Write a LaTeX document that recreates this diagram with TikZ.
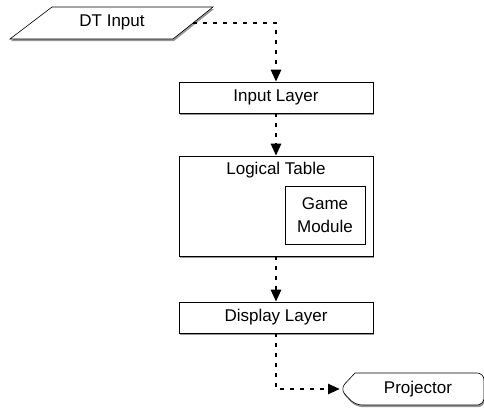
\documentclass[tikz,border=0pt]{standalone}
\usepackage{fontspec}
\setmainfont{Liberation Sans}
\usetikzlibrary{shadows,arrows.meta}
\begin{document}
\begin{tikzpicture}[x=1pt,y=-1pt,
  shd/.style={drop shadow={shadow xshift=0.8pt,shadow yshift=-2.2pt,opacity=0.55,fill=black!75}},
  boxs/.style={draw=black,line width=0.6pt,fill=white,shd},
  lbl/.style={font=\fontsize{17}{19}\selectfont,inner sep=0pt},
  conn/.style={line width=2.6pt,dash pattern=on 4pt off 6pt,-{Triangle[length=12pt,width=10pt]}}]
\useasboundingbox (0,0) rectangle (484,413);
% DT Input
\filldraw[boxs] (52,7) -- (213,7) -- (173,39) -- (10,39) -- cycle;
\node[lbl] (dt) at (112,22) {DT Input};
\coordinate (dtout) at (193,23);
% Input Layer
\node[boxs,minimum width=194pt,minimum height=31pt,inner sep=0pt] (il) at (276,97.5) {};
\node[lbl] at (il.center) {Input Layer};
% Logical Table
\node[boxs,minimum width=194pt,minimum height=100pt,inner sep=0pt] (lt) at (276,206) {};
\node[lbl] (ltl) at (276,170) {Logical Table};
\node[draw=black,line width=0.5pt,fill=white,minimum width=80pt,minimum height=58pt,inner sep=0pt,
      align=center,font=\fontsize{17}{23}\selectfont] (gm) at (325,215) {Game\\Module};
% Display Layer
\node[boxs,minimum width=194pt,minimum height=31pt,inner sep=0pt] (dl) at (276,317.5) {};
\node[lbl] at (dl.center) {Display Layer};
% Projector
\filldraw[boxs,rounded corners=7pt] (355,373) -- (484,373) -- (484,405) -- (355,405) -- (340,389) [sharp corners] -- cycle;
\node[lbl] (pj) at (418,389) {Projector};
\coordinate (pjin) at (340,389);
% connectors
\draw[conn] (dtout) -- (276,23) -- (il.north);
\draw[conn] (il.south) -- (lt.north);
\draw[conn] (lt.south) -- (dl.north);
\draw[conn] (dl.south) -- (276,389) -- (pjin);
\end{tikzpicture}
\end{document}
